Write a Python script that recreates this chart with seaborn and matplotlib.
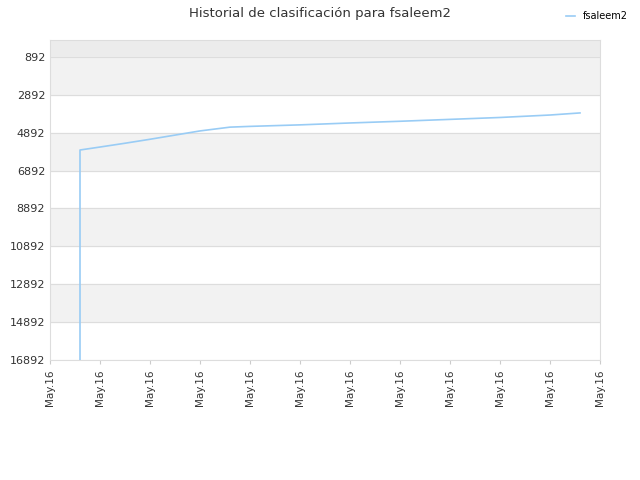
import matplotlib
matplotlib.use("Agg")
import matplotlib.pyplot as plt
import seaborn as sns
import pandas as pd

tick_labels = ["May.16"] * 12
yticks = [892, 2892, 4892, 6892, 8892, 10892, 12892, 14892, 16892]
pos = [0.6, 0.6, 1.0, 1.5, 2.0, 2.5, 3.0, 3.6, 4.0, 5.0, 6.0, 7.0, 8.0, 9.0, 10.0, 10.6]
rank = [16892, 5807, 5650, 5450, 5240, 5020, 4800, 4600, 4560, 4480, 4380, 4290, 4190, 4090, 3960, 3850]
df = pd.DataFrame({"x": pos, "rank": rank})

fig = plt.figure(figsize=(6.4, 4.8), dpi=100)
ax = fig.add_axes([50/640, 1-360/480, 550/640, 320/480])
ax.set_ylim(16892, 0)
ax.set_xlim(0, 11)
ax.axhspan(0, 892, color="#ececec", zorder=0)
for i in range(0, 8, 2):
    ax.axhspan(yticks[i], yticks[i+1], color="#f2f2f2", zorder=0)
for y in yticks:
    ax.axhline(y, color="#dddddd", lw=0.8, zorder=1)
sns.lineplot(data=df, x="x", y="rank", ax=ax, color="#99ccf5", lw=1.2,
             estimator=None, sort=False, label="fsaleem2", zorder=3, legend=False)
ax.set_yticks(yticks)
ax.set_xticks(range(12))
ax.set_xticklabels(tick_labels, rotation=90, fontsize=7.5, color="#333333")
ax.tick_params(axis="y", labelsize=8, colors="#333333", length=0)
ax.tick_params(axis="x", length=3, color="#cccccc")
ax.set_xlabel(""); ax.set_ylabel("")
for s in ax.spines.values():
    s.set_color("#dddddd")
h, l = ax.get_legend_handles_labels()
fig.legend(h, l, loc="upper right", bbox_to_anchor=(0.995, 0.995), frameon=False,
           fontsize=7, handlelength=1)
fig.suptitle("Historial de clasificación para fsaleem2", x=0.5, y=0.985, fontsize=9.5, color="#333333")
fig.savefig("out.png", dpi=100)
